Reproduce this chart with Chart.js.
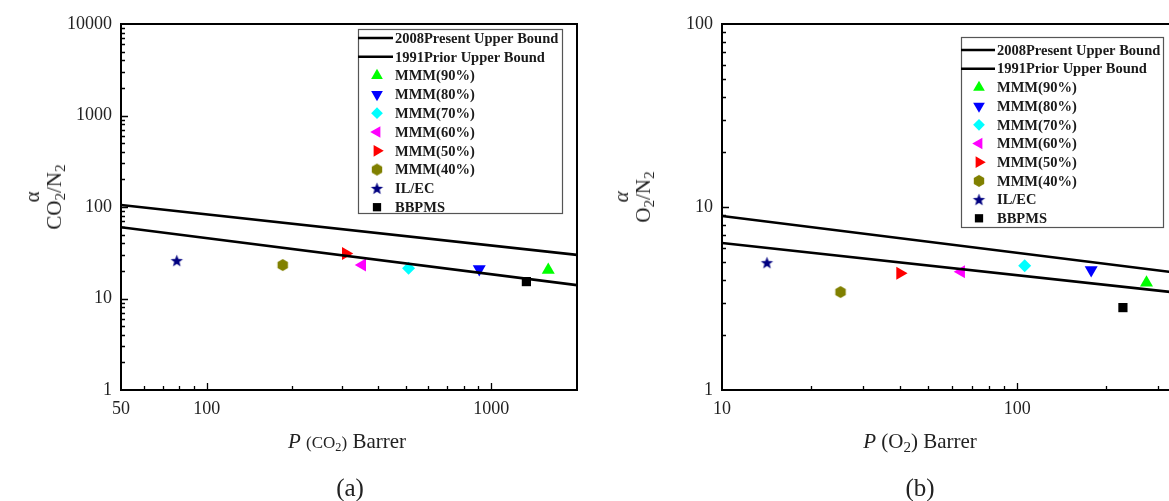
<!DOCTYPE html>
<html>
<head>
<meta charset="utf-8">
<script src="https://cdn.jsdelivr.net/npm/chart.js@4.4.1/dist/chart.umd.min.js"></script>
<style>
  html, body { margin: 0; padding: 0; background: #fff; overflow: hidden; width: 1169px; height: 501px; }
  .panel { position: absolute; top: 0; height: 501px; }
  #panelA { left: 0; width: 600px; }
  #panelB { left: 600px; width: 620px; }
  .lbl { position: absolute; font-family: "Liberation Serif", "Times New Roman", serif; color: #222; white-space: nowrap; }
  .lbl sub { font-size: 72%; vertical-align: -0.28em; line-height: 0; }
  .ytitle { transform: translate(-50%, -50%) rotate(-90deg); text-align: center; font-size: 21px; line-height: 22px; }
  .xtitle { transform: translate(-50%, -50%); font-size: 21px; }
  .xtitle .sm { font-size: 17px; }
  .cap { transform: translate(-50%, -50%); font-size: 25px; }
</style>
</head>
<body>
<div class="panel" id="panelA"><canvas id="chartA" width="600" height="501"></canvas></div>
<div class="panel" id="panelB"><canvas id="chartB" width="620" height="501"></canvas></div>

<div class="lbl ytitle" style="left:43px; top:197px;">α<br>CO<sub>2</sub>/N<sub>2</sub></div>
<div class="lbl ytitle" style="left:632px; top:197px;"><i>α</i><br>O<sub>2</sub>/N<sub>2</sub></div>
<div class="lbl xtitle" style="left:347px; top:441px;"><i>P</i> <span class="sm">(CO<sub>2</sub>)</span> Barrer</div>
<div class="lbl xtitle" style="left:920px; top:441px;"><i>P</i> (O<sub>2</sub>) Barrer</div>
<div class="lbl cap" style="left:350px; top:488px;">(a)</div>
<div class="lbl cap" style="left:920px; top:488px;">(b)</div>

<script>
// ── Data ──────────────────────────────────────────────────────────────
const boundNames = ['2008Present Upper Bound', '1991Prior Upper Bound'];
const seriesNames = ['MMM(90%)', 'MMM(80%)', 'MMM(70%)', 'MMM(60%)', 'MMM(50%)', 'MMM(40%)', 'IL/EC', 'BBPMS'];

// (a) CO2/N2
const co2BoundP = [50, 2000];
const co2Upper2008 = [105, 30];
const co2Prior1991 = [60, 14];
const co2Perm = [1585, 907, 512, 352, 308, 185, 78.5, 1328];
const co2Sel = [20.5, 21, 21.4, 23.2, 31, 23.2, 25.9, 15.3];
const co2XTicks = [50, 100, 1000];
const co2YTicks = [1, 10, 100, 1000, 10000];

// (b) O2/N2
const o2BoundP = [10, 400];
const o2Upper2008 = [8.93, 4.25];
const o2Prior1991 = [6.36, 3.32];
const o2Perm = [274, 178, 106, 64.6, 40.1, 25.2, 14.2, 228];
const o2Sel = [3.86, 4.52, 4.78, 4.43, 4.34, 3.43, 4.96, 2.82];
const o2XTicks = [10, 100];
const o2YTicks = [1, 10, 100];

// ── Marker styles ─────────────────────────────────────────────────────
function makeHex(color, r) {
  const c = document.createElement('canvas');
  c.width = c.height = r * 2 + 2;
  const g = c.getContext('2d');
  g.fillStyle = color;
  g.beginPath();
  for (let i = 0; i < 6; i++) {
    const a = Math.PI / 6 + i * Math.PI / 3;
    g.lineTo(r + 1 + r * Math.cos(a), r + 1 + r * Math.sin(a));
  }
  g.closePath();
  g.fill();
  return c;
}

function makeStar(color, r) {
  const c = document.createElement('canvas');
  c.width = c.height = r * 2 + 2;
  const g = c.getContext('2d');
  g.fillStyle = color;
  g.beginPath();
  for (let i = 0; i < 10; i++) {
    const a = -Math.PI / 2 + i * Math.PI / 5;
    const rr = i % 2 ? r * 0.42 : r;
    g.lineTo(r + 1 + rr * Math.cos(a), r + 1.5 + rr * Math.sin(a));
  }
  g.closePath();
  g.fill();
  return c;
}

const markers = [
  { color: '#00ff00', pointStyle: 'triangle', rotation: 0, radius: 7.5 },
  { color: '#0000ff', pointStyle: 'triangle', rotation: 180, radius: 7.5 },
  { color: '#00ffff', pointStyle: 'rectRot', rotation: 0, radius: 6.5 },
  { color: '#ff00ff', pointStyle: 'triangle', rotation: 270, radius: 7.5 },
  { color: '#ff0000', pointStyle: 'triangle', rotation: 90, radius: 7.5 },
  { color: '#808000', pointStyle: makeHex('#808000', 6), rotation: 0, radius: 6 },
  { color: '#000080', pointStyle: makeStar('#000080', 6.5), rotation: 0, radius: 6 },
  { color: '#000000', pointStyle: 'rect', rotation: 0, radius: 6.5 },
];

function buildDatasets(boundP, upper, prior, perm, sel) {
  const lines = [upper, prior].map((vals, i) => ({
    label: boundNames[i],
    data: boundP.map((p, j) => ({ x: p, y: vals[j] })),
    showLine: true, borderColor: '#000', borderWidth: 2.6, pointRadius: 0,
  }));
  const pts = seriesNames.map((name, i) => ({
    label: name,
    data: [{ x: perm[i], y: sel[i] }],
    backgroundColor: markers[i].color, borderColor: markers[i].color, borderWidth: 0,
    pointStyle: markers[i].pointStyle, rotation: markers[i].rotation, pointRadius: markers[i].radius,
  }));
  return lines.concat(pts);
}

// ── Plugins: frame with inward ticks, boxed legend ────────────────────
const framePlugin = {
  id: 'frame',
  afterDraw(chart) {
    const { ctx, chartArea: a, scales: { x, y } } = chart;
    ctx.save();
    ctx.strokeStyle = '#000';
    ctx.lineWidth = 1.3;
    const minorTicks = (scale, fn) => {
      const lo = Math.floor(Math.log10(scale.min)), hi = Math.ceil(Math.log10(scale.max));
      for (let d = lo; d <= hi; d++) {
        for (let m = 1; m <= 9; m++) {
          const v = m * Math.pow(10, d);
          if (v <= scale.min * 1.0001 || v >= scale.max * 0.9999) continue;
          fn(scale.getPixelForValue(v), m === 1 ? 7 : 4);
        }
      }
    };
    ctx.beginPath();
    minorTicks(x, (px, len) => { ctx.moveTo(Math.round(px) + 0.5, a.bottom); ctx.lineTo(Math.round(px) + 0.5, a.bottom - len); });
    minorTicks(y, (py, len) => { ctx.moveTo(a.left, Math.round(py) + 0.5); ctx.lineTo(a.left + len, Math.round(py) + 0.5); });
    ctx.stroke();
    ctx.lineWidth = 2;
    ctx.strokeRect(a.left, a.top, a.right - a.left, a.bottom - a.top);
    ctx.restore();
  },
};

const legendPlugin = {
  id: 'boxLegend',
  afterDraw(chart, args, o) {
    const { ctx } = chart;
    ctx.save();
    ctx.fillStyle = '#fff';
    ctx.fillRect(o.x, o.y, o.w, o.h);
    ctx.strokeStyle = '#555';
    ctx.lineWidth = 1.2;
    ctx.strokeRect(o.x + 0.5, o.y + 0.5, o.w, o.h);
    ctx.font = 'bold 14.5px "Liberation Serif", "Times New Roman", serif';
    ctx.textBaseline = 'middle';
    chart.data.datasets.forEach((ds, i) => {
      const ry = o.row0 + i * o.rowGap;
      if (ds.showLine) {
        ctx.strokeStyle = '#000';
        ctx.lineWidth = 2.6;
        ctx.beginPath();
        ctx.moveTo(o.lineX0, ry);
        ctx.lineTo(o.lineX1, ry);
        ctx.stroke();
      } else {
        ctx.fillStyle = ds.backgroundColor;
        ctx.strokeStyle = ds.backgroundColor;
        Chart.helpers.drawPoint(ctx, { pointStyle: ds.pointStyle, rotation: ds.rotation, radius: ds.pointRadius * 0.9, borderWidth: 0 }, o.markX, ry);
      }
      ctx.fillStyle = '#1a1a1a';
      ctx.fillText(ds.label, o.textX, ry + 1);
    });
    ctx.restore();
  },
};

// ── Chart builder ─────────────────────────────────────────────────────
function makeChart(id, datasets, xr, yr, xTicks, yTicks, yWidth, padRight, legend) {
  const tickFont = { family: '"Liberation Serif", "Times New Roman", serif', size: 18 };
  return new Chart(document.getElementById(id).getContext('2d'), {
    type: 'scatter',
    data: { datasets },
    options: {
      responsive: false,
      animation: false,
      layout: { padding: { top: 24, right: padRight, left: 0, bottom: 0 } },
      plugins: { legend: { display: false }, tooltip: { enabled: false }, boxLegend: legend },
      scales: {
        x: {
          type: 'logarithmic', min: xr[0], max: xr[1],
          grid: { display: false, drawTicks: false }, border: { display: false },
          afterBuildTicks: s => { s.ticks = xTicks.map(v => ({ value: v })); },
          afterFit: s => { s.height = 111; },
          ticks: { color: '#222', font: tickFont, padding: 8, maxRotation: 0, autoSkip: false, callback: v => String(v) },
        },
        y: {
          type: 'logarithmic', min: yr[0], max: yr[1],
          grid: { display: false, drawTicks: false }, border: { display: false },
          afterBuildTicks: s => { s.ticks = yTicks.map(v => ({ value: v })); },
          afterFit: s => { s.width = yWidth; },
          ticks: { color: '#222', font: tickFont, padding: 9, autoSkip: false, callback: v => String(v) },
        },
      },
    },
    plugins: [framePlugin, legendPlugin],
  });
}

makeChart('chartA',
  buildDatasets(co2BoundP, co2Upper2008, co2Prior1991, co2Perm, co2Sel),
  [50, 2000], [1, 10000], co2XTicks, co2YTicks, 121, 23,
  { x: 358, y: 29, w: 204, h: 184, row0: 38, rowGap: 18.8, lineX0: 358, lineX1: 393, markX: 377, textX: 395 });

makeChart('chartB',
  buildDatasets(o2BoundP, o2Upper2008, o2Prior1991, o2Perm, o2Sel),
  [10, 400], [1, 100], o2XTicks, o2YTicks, 122, 25,
  { x: 361, y: 37, w: 202, h: 190, row0: 50, rowGap: 18.7, lineX0: 361, lineX1: 395, markX: 379, textX: 397 });
</script>
</body>
</html>
